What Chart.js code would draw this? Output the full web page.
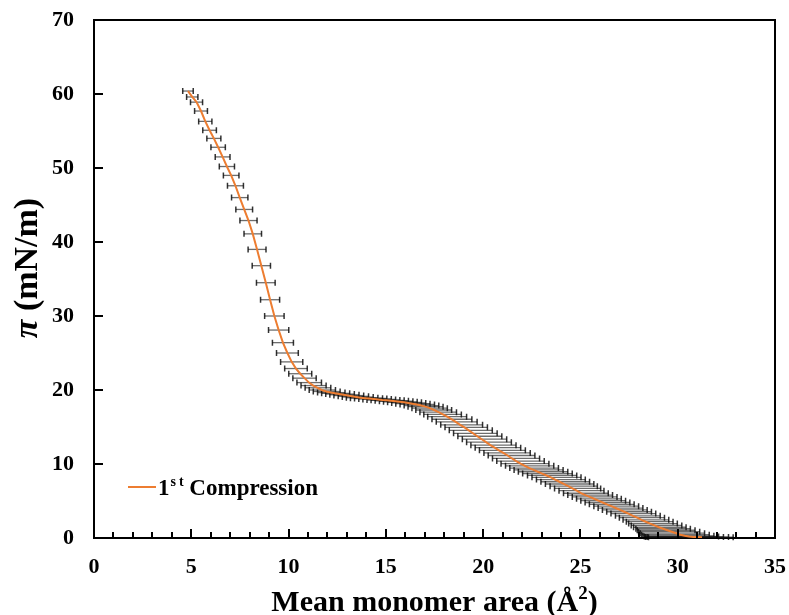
<!DOCTYPE html>
<html>
<head>
<meta charset="utf-8">
<script src="https://cdn.jsdelivr.net/npm/chart.js@4/dist/chart.umd.min.js"></script>
<style>
html,body{margin:0;padding:0;background:#fff;}
#c{display:block;}
</style>
</head>
<body>
<canvas id="c" width="789" height="615"></canvas>
<script>
// Mean monomer area (Å²)
const areaValues = [
 4.83,5.05,5.27,5.50,5.72,5.94,6.16,6.38,6.61,6.83,
 7.05,7.27,7.49,7.72,7.94,8.16,8.38,8.60,8.83,9.05,
 9.27,9.49,9.71,9.94,10.16,10.38,10.60,10.82,11.05,11.27,
 11.49,11.71,11.93,12.16,12.38,12.60,12.82,13.04,13.27,13.49,
 13.71,13.93,14.15,14.38,14.60,14.82,15.04,15.26,15.49,15.71,
 15.93,16.15,16.37,16.60,16.82,17.04,17.26,17.48,17.71,17.93,
 18.15,18.37,18.59,18.82,19.04,19.26,19.48,19.70,19.93,20.15,
 20.37,20.59,20.81,21.04,21.26,21.48,21.70,21.92,22.15,22.37,
 22.59,22.81,23.03,23.26,23.48,23.70,23.92,24.14,24.37,24.59,
 24.81,25.03,25.25,25.48,25.70,25.92,26.14,26.36,26.59,26.81,
 27.03,27.25,27.47,27.70,27.92,28.14,28.36,28.58,28.81,29.03,
 29.25,29.47,29.69,29.92,30.14,30.36,30.58,30.80,31.03,31.25
];
// Surface pressure π (mN/m)
const pressureValues = [
 60.4,59.6,58.9,57.7,56.3,55.1,54.0,52.8,51.5,50.2,
 49.0,47.6,46.0,44.4,42.9,41.1,39.0,36.8,34.5,32.2,
 30.0,28.1,26.4,25.0,23.8,22.9,22.2,21.6,21.0,20.6,
 20.3,20.0,19.8,19.65,19.55,19.45,19.35,19.25,19.15,19.05,
 18.95,18.9,18.85,18.8,18.72,18.65,18.6,18.55,18.48,18.4,
 18.33,18.25,18.15,18.05,17.9,17.75,17.55,17.3,17.0,16.7,
 16.4,16.05,15.7,15.3,14.95,14.55,14.15,13.75,13.35,12.95,
 12.55,12.2,11.85,11.5,11.15,10.75,10.4,10.05,9.75,9.45,
 9.2,8.95,8.7,8.45,8.2,7.9,7.6,7.3,7.0,6.7,
 6.4,6.05,5.8,5.55,5.3,5.05,4.8,4.55,4.3,4.05,
 3.8,3.55,3.3,3.0,2.75,2.45,2.2,1.95,1.7,1.45,
 1.25,1.05,0.85,0.65,0.45,0.3,0.2,0.15,0.12,0.1
];
// Horizontal error bars: lower (−) and upper (+) extent in Å²
const areaErrMinus = [
 0.27,0.29,0.31,0.33,0.34,0.35,0.36,0.37,0.38,0.39,
 0.40,0.41,0.42,0.43,0.44,0.45,0.46,0.47,0.48,0.49,
 0.50,0.52,0.54,0.56,0.57,0.58,0.59,0.60,0.62,0.63,
 0.64,0.65,0.66,0.67,0.68,0.69,0.70,0.71,0.72,0.73,
 0.74,0.75,0.76,0.77,0.78,0.79,0.80,0.81,0.82,0.83,
 0.84,0.85,0.86,0.87,0.88,0.90,0.92,0.94,0.96,0.98,
 1.00,1.00,1.00,1.00,1.00,1.00,1.00,1.00,1.00,1.00,
 1.00,1.00,1.00,1.00,1.00,1.00,1.00,1.00,1.00,1.00,
 1.00,1.00,1.00,0.98,0.97,0.96,0.95,0.94,0.93,0.92,
 0.91,0.90,0.90,0.90,0.90,0.90,0.90,0.90,0.90,0.90,
 0.90,0.90,0.90,0.90,0.92,0.95,1.00,1.10,1.20,1.30,
 1.40,1.55,1.70,1.85,2.00,2.15,2.30,2.45,2.60,2.75
];
const areaErrPlus = [
 0.27,0.29,0.31,0.33,0.34,0.35,0.36,0.37,0.38,0.39,
 0.40,0.41,0.42,0.43,0.44,0.45,0.46,0.47,0.48,0.49,
 0.50,0.52,0.54,0.56,0.57,0.58,0.59,0.60,0.64,0.66,
 0.68,0.70,0.72,0.74,0.76,0.78,0.80,0.82,0.84,0.86,
 0.88,0.90,0.90,0.90,0.90,0.90,0.90,0.90,0.90,0.90,
 0.90,0.90,0.90,0.90,0.90,0.90,0.90,0.90,0.92,0.95,
 1.00,1.05,1.10,1.15,1.18,1.21,1.24,1.26,1.28,1.30,
 1.32,1.34,1.36,1.38,1.40,1.42,1.44,1.46,1.48,1.50,
 1.52,1.54,1.55,1.55,1.55,1.55,1.55,1.55,1.50,1.45,
 1.40,1.40,1.40,1.40,1.40,1.40,1.40,1.40,1.40,1.40,
 1.40,1.40,1.40,1.40,1.40,1.40,1.40,1.40,1.40,1.40,
 1.40,1.42,1.44,1.46,1.48,1.50,1.52,1.55,1.58,1.60
];
const xTickLabels = [0,5,10,15,20,25,30,35];
const yTickLabels = [0,10,20,30,40,50,60,70];
const seriesName = ['1', 'st', ' Compression'];
const xTitle = ['Mean monomer area (Å', '2', ')'];
const yTitle = ['π', ' (mN/m)'];

const FONT = "'Liberation Serif', 'Times New Roman', serif";
const ORANGE = '#ED7D31';

const points = areaValues.map((x, i) => ({x: x, y: pressureValues[i], em: areaErrMinus[i], ep: areaErrPlus[i]}));

const errorBarPlugin = {
  id: 'errorBars',
  beforeDatasetsDraw(chart) {
    const ctx = chart.ctx, xs = chart.scales.x, ys = chart.scales.y;
    ctx.save();
    points.forEach(p => {
      const y = ys.getPixelForValue(p.y);
      const x1 = xs.getPixelForValue(p.x - p.em);
      const x2 = xs.getPixelForValue(p.x + p.ep);
      ctx.strokeStyle = 'rgba(20,20,20,0.62)';
      ctx.lineWidth = 1.3;
      ctx.beginPath();
      ctx.moveTo(x1, y); ctx.lineTo(x2, y);
      ctx.stroke();
      ctx.strokeStyle = 'rgba(0,0,0,0.8)';
      ctx.lineWidth = 1.5;
      ctx.beginPath();
      ctx.moveTo(x1, y - 3); ctx.lineTo(x1, y + 3);
      ctx.moveTo(x2, y - 3); ctx.lineTo(x2, y + 3);
      ctx.stroke();
    });
    ctx.restore();
  }
};

const framePlugin = {
  id: 'frame',
  afterDraw(chart) {
    const ctx = chart.ctx, a = chart.chartArea, xs = chart.scales.x, ys = chart.scales.y;
    ctx.save();
    ctx.strokeStyle = '#000';
    ctx.lineWidth = 2;
    ctx.beginPath();
    ctx.moveTo(a.left, a.top); ctx.lineTo(a.right, a.top); ctx.lineTo(a.right, a.bottom);
    ctx.stroke();
    ctx.beginPath();
    for (let v = 1; v < 35; v++) {
      const px = Math.round(xs.getPixelForValue(v));
      const len = (v % 5 === 0) ? 9 : 6;
      ctx.moveTo(px, a.bottom); ctx.lineTo(px, a.bottom - len);
    }
    yTickLabels.forEach(v => {
      if (v === 0 || v === 70) return;
      const py = Math.round(ys.getPixelForValue(v));
      ctx.moveTo(a.left, py); ctx.lineTo(a.left + 9, py);
    });
    ctx.stroke();

    // legend
    const ly = 487;
    ctx.strokeStyle = ORANGE;
    ctx.lineWidth = 2;
    ctx.beginPath();
    ctx.moveTo(128, ly); ctx.lineTo(156, ly);
    ctx.stroke();
    ctx.fillStyle = '#000';
    ctx.textBaseline = 'alphabetic';
    ctx.textAlign = 'left';
    let tx = 158;
    const base = 495;
    ctx.font = 'bold 23px ' + FONT;
    ctx.fillText(seriesName[0], tx, base);
    tx += ctx.measureText(seriesName[0]).width + 1;
    ctx.font = 'bold 14px ' + FONT;
    ctx.fillText('s', tx, base - 9);
    tx += ctx.measureText('s').width + 3;
    ctx.fillText('t', tx, base - 9);
    tx += ctx.measureText('t').width;
    ctx.font = 'bold 23px ' + FONT;
    ctx.fillText(seriesName[2], tx, base);

    // x title
    const cx = (a.left + a.right) / 2;
    ctx.font = 'bold 30px ' + FONT;
    const w0 = ctx.measureText(xTitle[0]).width;
    const w2 = ctx.measureText(xTitle[2]).width;
    ctx.font = 'bold 19px ' + FONT;
    const w1 = ctx.measureText(xTitle[1]).width;
    let sx = cx - (w0 + w1 + w2) / 2;
    const xb = 611;
    ctx.font = 'bold 30px ' + FONT;
    ctx.fillText(xTitle[0], sx, xb);
    sx += w0;
    ctx.font = 'bold 19px ' + FONT;
    ctx.fillText(xTitle[1], sx, xb - 12);
    sx += w1;
    ctx.font = 'bold 30px ' + FONT;
    ctx.fillText(xTitle[2], sx, xb);

    // y title (rotated)
    ctx.translate(37, 268);
    ctx.rotate(-Math.PI / 2);
    ctx.font = 'italic bold 34px ' + FONT;
    const p0 = ctx.measureText(yTitle[0]).width;
    ctx.font = 'bold 34px ' + FONT;
    const p1 = ctx.measureText(yTitle[1]).width;
    let ry = -(p0 + p1) / 2;
    ctx.font = 'italic bold 34px ' + FONT;
    ctx.fillText(yTitle[0], ry, 0);
    ry += p0;
    ctx.font = 'bold 34px ' + FONT;
    ctx.fillText(yTitle[1], ry, 0);
    ctx.restore();
  }
};

new Chart(document.getElementById('c'), {
  type: 'scatter',
  data: {
    datasets: [{
      label: '1st Compression',
      data: points,
      showLine: true,
      borderColor: ORANGE,
      borderWidth: 2,
      pointRadius: 0,
      tension: 0,
      fill: false
    }]
  },
  options: {
    responsive: false,
    animation: false,
    devicePixelRatio: 1,
    layout: { padding: { left: 0, right: 14, top: 20, bottom: 0 } },
    plugins: { legend: { display: false }, tooltip: { enabled: false } },
    scales: {
      x: {
        type: 'linear', min: 0, max: 35,
        afterBuildTicks: s => { s.ticks = xTickLabels.map(v => ({value: v})); },
        ticks: { color: '#000', padding: 16, maxRotation: 0, font: { family: FONT, size: 22, weight: 'bold' } },
        grid: { display: false, drawTicks: false },
        border: { display: true, color: '#000', width: 2 },
        afterFit: s => { s.height = 77; s.paddingLeft = 0; s.paddingRight = 0; }
      },
      y: {
        type: 'linear', min: 0, max: 70,
        afterBuildTicks: s => { s.ticks = yTickLabels.map(v => ({value: v})); },
        ticks: { color: '#000', padding: 20, font: { family: FONT, size: 22, weight: 'bold' } },
        grid: { display: false, drawTicks: false },
        border: { display: true, color: '#000', width: 2 },
        afterFit: s => { s.width = 94; s.paddingTop = 0; s.paddingBottom = 0; }
      }
    }
  },
  plugins: [errorBarPlugin, framePlugin]
});
</script>
</body>
</html>
